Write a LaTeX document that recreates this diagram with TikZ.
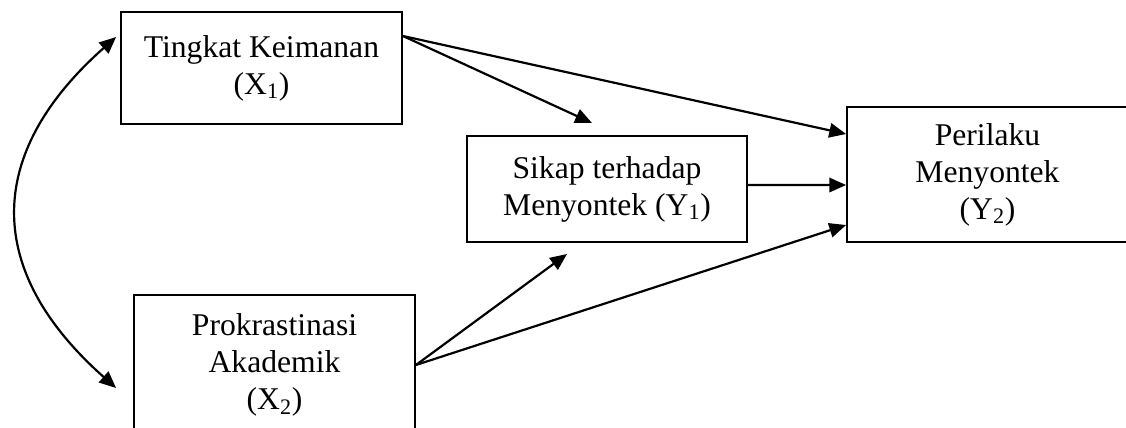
\documentclass[tikz,border=0pt]{standalone}
\usepackage{fontspec}
\setmainfont{Liberation Serif}
\usepackage{tikz}
\usetikzlibrary{arrows.meta}
\newcommand{\sub}[1]{\textsubscript{#1}}

\begin{document}
\begin{tikzpicture}[
        var/.style={draw, line width=0.045cm, inner sep=0pt, align=center,
            minimum width=7.025cm, font=\fontsize{22.5}{26.3}\selectfont},
        path/.style={line width=0.055cm, -{Triangle[length=0.42cm, width=0.36cm]}},
        corr/.style={line width=0.055cm, {Triangle[length=0.42cm, width=0.36cm]}-{Triangle[length=0.42cm, width=0.36cm]}}
    ]

        \useasboundingbox (0, 0) rectangle (28.15, -10.675);

        \node[var, minimum height=2.8cm] (x1) at (6.5375, -1.7) {Tingkat Keimanan\\(X\sub{1})};
        \node[var, minimum height=3.5cm] (x2) at (6.8625, -9.125) {Prokrastinasi\\Akademik\\(X\sub{2})};
        \node[var, minimum width=7cm, minimum height=2.65cm] (y1) at (15.175, -4.725) {Sikap terhadap\\Menyontek (Y\sub{1})};
        \node[var, minimum height=3.375cm] (y2) at (24.6875, -4.3625) {Perilaku\\Menyontek\\(Y\sub{2})};

        \coordinate (endx1) at (14.8, -3.075); % arrow tip above Y1
        \coordinate (endx2) at (14.175, -6.35); % arrow tip below Y1
        \coordinate (ctop) at ([xshift=-0.1cm, yshift=0.775cm]x1.west);
        \coordinate (cbot) at ([xshift=-0.425cm, yshift=-0.575cm]x2.west);

        \draw[path] ([yshift=0.8cm]x1.east) -- ([yshift=1.0125cm]y2.west);
        \draw[path] ([yshift=0.8cm]x1.east) -- (endx1);
        \draw[path] ([yshift=0.1cm]y1.east) -- ([yshift=-0.2625cm]y2.west);
        \draw[path] (x2.east) -- (endx2);
        \draw[path] (x2.east) -- ([yshift=-1.2625cm]y2.west);

        % correlation between X1 and X2
        \draw[corr] (ctop) .. controls ++(-3.3, -2.925) and ++(-3.3, 2.925) .. (cbot);

    \end{tikzpicture}
\end{document}
